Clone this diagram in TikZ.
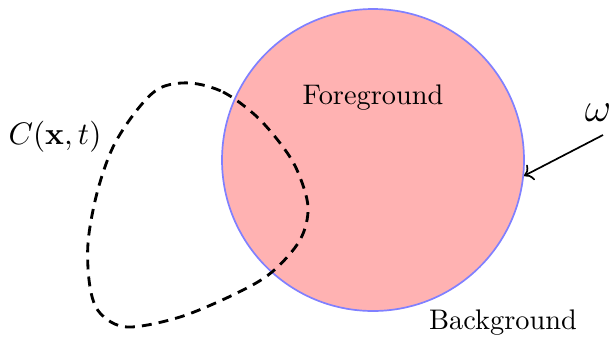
\documentclass[tikz,border=0pt]{standalone}
\usetikzlibrary{arrows.meta}
\begin{document}
\begin{tikzpicture}[x=0.353pt,y=-0.353pt,
  region/.style={circle,draw=blue!50,fill=red!30,line width=0.6pt,minimum size=106.6pt,inner sep=0pt},
  contour/.style={line width=1pt,dash pattern=on 3.5pt off 2.5pt},
  lbl/.style={inner sep=0pt}]
\useasboundingbox (0,0) rectangle (610,339);
\node[region] (circ) at (373,160) {};
\node[lbl] (fg) at (373,98) {Foreground};
\node[lbl] (bg) at (503,323) {Background};
\node[lbl,scale=1.1] (C) at (55,137) {$C(\mathbf{x},t)$};
\node[lbl] (w) at (598,113) {\Large$\omega$};
\coordinate (ws) at (603,135);
\draw[contour] plot[smooth cycle,tension=0.55] coordinates {(190,83) (223,92) (255,115) (280,143) (297,170) (308,207) (300,240) (272,272) (237,293) (180,317) (127,327) (100,313) (90,287) (88,243) (97,193) (113,147) (137,110) (160,88)};
\draw[->,semithick] (ws) -- (circ.-6);
\end{tikzpicture}
\end{document}
